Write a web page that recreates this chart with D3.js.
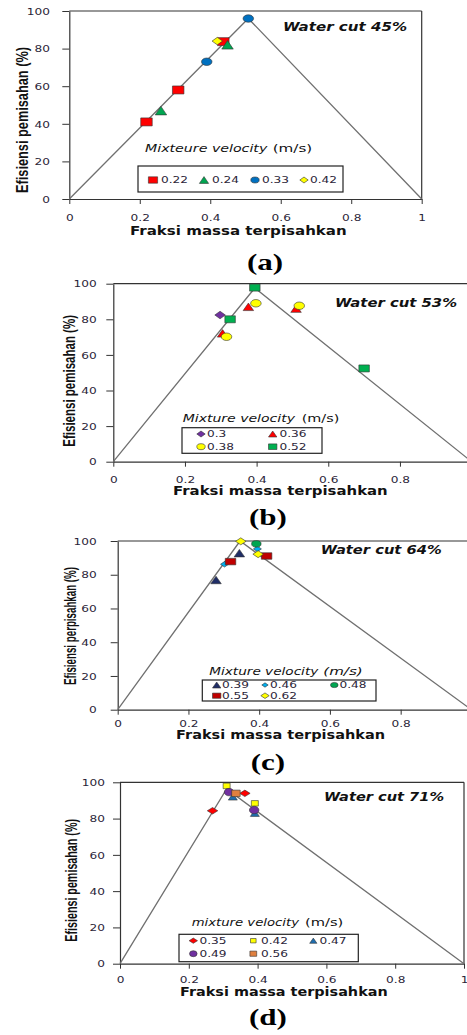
<!DOCTYPE html>
<html><head><meta charset="utf-8">
<script src="https://cdn.jsdelivr.net/npm/d3@7"></script>
<style>body{margin:0;background:#fff}svg{display:block}</style>
</head><body>
<svg id="c" width="467" height="1035"></svg>
<script>
// ---------------- DATA ----------------
const panelLabels = ["(a)", "(b)", "(c)", "(d)"];
const waterCuts = ["Water cut 45%", "Water cut 53%", "Water cut 64%", "Water cut 71%"];
const yTitles = ["Efisiensi pemisahan (%)", "Efisiensi pemisahan (%)", "Efisiensi perpisahkan (%)", "Efisiensi pemisahan (%)"];
const xTitle = "Fraksi massa terpisahkan";
const legendTitles = ["Mixteure velocity", "Mixture velocity", "Mixture velocity", "mixture velocity"];
const legendUnit = "(m/s)";
const yTicks = [0, 20, 40, 60, 80, 100];
const xTicksFull = [0, 0.2, 0.4, 0.6, 0.8, 1];
const xTicksCut = [0, 0.2, 0.4, 0.6, 0.8];

// triangle guide line: (0,0) -> peak -> (1,0)
const peakX = [0.508, 0.395, 0.346, 0.31];
const peakY = [96, 97.6, 100, 96.3];

// (a) Water cut 45%
const aVelocity = ["0.22", "0.24", "0.33", "0.42"];
const aX = [[0.219, 0.309, 0.437], [0.26, 0.449], [0.39, 0.508], [0.42]];
const aY = [[41, 58, 83.7], [47, 82], [73, 96], [84]];

// (b) Water cut 53%
const bVelocity = ["0.3", "0.36", "0.38", "0.52"];
const bX = [[0.298], [0.305, 0.377, 0.51], [0.316, 0.398, 0.519], [0.326, 0.395, 0.70]];
const bY = [[82.4], [72.1, 87, 86], [70.2, 89, 87.6], [80, 97.8, 52.4]];

// (c) Water cut 64%
const cVelocity = ["0.39", "0.46", "0.48", "0.55", "0.62"];
const cX = [[0.278, 0.344], [0.302, 0.395], [0.392], [0.319, 0.421], [0.348, 0.397]];
const cY = [[76.9, 92.8], [86.2, 95.3], [98.3], [87.8, 91.1], [99.8, 92.2]];

// (d) Water cut 71%
const dVelocity = ["0.35", "0.42", "0.47", "0.49", "0.56"];
const dX = [[0.269, 0.363], [0.31, 0.392], [0.328, 0.392], [0.317, 0.39], [0.337]];
const dY = [[84.3, 93.9], [98, 88.4], [92, 83], [94.6, 84.7], [93.9]];

// ---------------- STYLES / LAYOUT ----------------
const series = [
  {vel: aVelocity, xs: aX, ys: aY, sty: [
    {shape: "square", fill: "#ff0000", w: 11.5, h: 8},
    {shape: "triangle", fill: "#00a651", w: 11.5, h: 8.5},
    {shape: "circle", fill: "#0070c0", w: 10.5, h: 7.5},
    {shape: "diamond", fill: "#ffff00", w: 10.5, h: 7.5}]},
  {vel: bVelocity, xs: bX, ys: bY, sty: [
    {shape: "diamond", fill: "#7030a0", w: 10.5, h: 7.5},
    {shape: "triangle", fill: "#ff0000", w: 10.5, h: 7.5},
    {shape: "circle", fill: "#ffff00", w: 10.5, h: 7.5},
    {shape: "square", fill: "#00b050", w: 10.5, h: 7}]},
  {vel: cVelocity, xs: cX, ys: cY, sty: [
    {shape: "triangle", fill: "#1f2d66", w: 10.5, h: 7.5},
    {shape: "diamond", fill: "#00b0f0", w: 8, h: 5.5},
    {shape: "circle", fill: "#00a651", w: 9.5, h: 6.5},
    {shape: "square", fill: "#c00000", w: 10.5, h: 6.5},
    {shape: "diamond", fill: "#ffff00", w: 10.5, h: 7}]},
  {vel: dVelocity, xs: dX, ys: dY, sty: [
    {shape: "diamond", fill: "#ff0000", w: 10.5, h: 6.5},
    {shape: "square", fill: "#ffff00", w: 7, h: 5.5},
    {shape: "triangle", fill: "#1f6fb0", w: 9, h: 6.5},
    {shape: "circle", fill: "#7030a0", w: 9.5, h: 7.5},
    {shape: "square", fill: "#e0803f", w: 8.5, h: 6.5}]}
];

const layout = [
  {x0: 69.3, x1: 421.7, yT: 11, yB: 199, xt: xTicksFull, yLabEnd: 50, xLabBase: 221,
   xTit: [130, 346.7, 235], yTit: [28, 193, 146], wc: [283, 407, 31],
   lg: {title: [145, 267.3], unit: [272.7, 312.3], base: 152, unitItalic: false,
        box: [138, 166, 343, 192], cols: [[153, 161], [204, 212], [255, 262], [304, 310]], rows: [180], perRow: 4},
   label: [265, 270]},
  {x0: 113.3, x1: 471.6, yT: 283.7, yB: 461.7, xt: xTicksCut, yLabEnd: 96.7, xLabBase: 483,
   xTit: [173, 387.7, 495], yTit: [75, 446.7, 131.7], wc: [335, 457, 306.5],
   lg: {title: [182.7, 295], unit: [301.7, 339.3], base: 422, unitItalic: false,
        box: [182, 427.7, 322, 453.3], cols: [[201, 207], [272.7, 279.5]], rows: [434, 446.7], perRow: 2},
   label: [268, 525]},
  {x0: 117.7, x1: 471.4, yT: 541, yB: 709.7, xt: xTicksCut, yLabEnd: 96.7, xLabBase: 727,
   xTit: [176, 385, 738.5], yTit: [76, 685, 118], wc: [320.7, 441.7, 554],
   lg: {title: [209.3, 318.3], unit: [323.3, 362.7], base: 674.5, unitItalic: true,
        box: [202.3, 680, 376, 701], cols: [[216.7, 222], [265, 270], [334.3, 339.5]], rows: [685, 695.7], perRow: 3},
   label: [268, 770]},
  {x0: 120, x1: 464, yT: 782.3, yB: 963.7, xt: xTicksFull, yLabEnd: 105, xLabBase: 982.5,
   xTit: [180, 387.7, 996], yTit: [77, 941.7, 122.7], wc: [324, 444, 800.5],
   lg: {title: [191.7, 299], unit: [305, 343.3], base: 926, unitItalic: false,
        box: [179, 934.3, 358.3, 961.7], cols: [[193.3, 199.5], [253.3, 261], [313.3, 319.5]], rows: [940.7, 953.7], perRow: 3},
   label: [268, 1025]}
];

const SX = 1.35; // horizontal stretch of the original figure

function markerPath(shape, w, h) {
  switch (shape) {
    case "square": return `M${-w/2},${-h/2}h${w}v${h}h${-w}Z`;
    case "circle": return `M${-w/2},0a${w/2},${h/2} 0 1,0 ${w},0a${w/2},${h/2} 0 1,0 ${-w},0Z`;
    case "triangle": return `M0,${-h/2}L${w/2},${h/2}L${-w/2},${h/2}Z`;
    case "diamond": return `M0,${-h/2}L${w/2},0L0,${h/2}L${-w/2},0Z`;
  }
}

const svg = d3.select("#c");
const numFont = "'DejaVu Sans', Verdana, sans-serif";

layout.forEach((L, p) => {
  const S = series[p];
  const g = svg.append("g");
  const x = d3.scaleLinear().domain([0, 1]).range([L.x0, L.x1]);
  const y = d3.scaleLinear().domain([0, 100]).range([L.yB, L.yT]);

  // frame top + right
  g.append("line").attr("x1", L.x0).attr("x2", L.x1).attr("y1", L.yT).attr("y2", L.yT)
    .attr("stroke", "#333").attr("stroke-width", 1.2);
  g.append("line").attr("x1", L.x1).attr("x2", L.x1).attr("y1", L.yT).attr("y2", L.yB)
    .attr("stroke", "#333").attr("stroke-width", 1.2);

  // axes
  const ya = g.append("g").attr("transform", `translate(${L.x0},0)`)
    .call(d3.axisLeft(y).tickValues(yTicks).tickSize(7).tickSizeOuter(0).tickFormat(d => String(d)));
  const xa = g.append("g").attr("transform", `translate(0,${L.yB})`)
    .call(d3.axisBottom(x).tickValues(L.xt).tickSize(5).tickSizeOuter(0).tickFormat(d => String(d)));
  [ya, xa].forEach(a => {
    a.select(".domain").attr("stroke", "#333").attr("stroke-width", 1.2);
    a.selectAll(".tick line").attr("stroke", "#333").attr("stroke-width", 1);
  });
  ya.selectAll(".tick text").attr("x", 0).attr("dy", "0.36em")
    .attr("transform", `translate(${L.yLabEnd - L.x0},0) scale(${SX},1)`)
    .attr("text-anchor", "end").attr("font-family", numFont).attr("font-size", 9).attr("fill", "#2a2438");
  xa.selectAll(".tick text").attr("y", 0).attr("dy", 0)
    .attr("transform", `translate(0,${L.xLabBase - L.yB}) scale(${SX},1)`)
    .attr("text-anchor", "middle").attr("font-family", numFont).attr("font-size", 9).attr("fill", "#2a2438");

  // guide line
  const lx = [0, peakX[p], 1], ly = [0, peakY[p], 0];
  g.append("path").datum(d3.range(3))
    .attr("d", d3.line().x(i => x(lx[i])).y(i => y(ly[i])))
    .attr("fill", "none").attr("stroke", "#707070").attr("stroke-width", 1.3);

  // markers
  S.vel.forEach((v, s) => {
    const st = S.sty[s];
    g.append("g").selectAll("path").data(d3.range(S.xs[s].length)).join("path")
      .attr("d", markerPath(st.shape, st.w, st.h))
      .attr("transform", i => `translate(${x(S.xs[s][i])},${y(S.ys[s][i])})`)
      .attr("fill", st.fill).attr("stroke", "#333").attr("stroke-width", 0.6);
  });

  // x title
  g.append("text").attr("x", L.xTit[0]).attr("y", L.xTit[2]).text(xTitle)
    .attr("font-family", numFont).attr("font-weight", "bold").attr("font-size", 11.5)
    .attr("textLength", L.xTit[1] - L.xTit[0]).attr("lengthAdjust", "spacingAndGlyphs").attr("fill", "#111");
  // y title
  g.append("text").attr("transform", `translate(${L.yTit[0]},${L.yTit[1]}) rotate(-90) scale(1,${SX})`)
    .text(yTitles[p]).attr("font-family", "'Liberation Sans', Arial, sans-serif").attr("font-weight", "bold")
    .attr("font-size", 12.5).attr("textLength", L.yTit[2]).attr("lengthAdjust", "spacingAndGlyphs").attr("fill", "#111");
  // water cut
  g.append("text").attr("x", L.wc[0]).attr("y", L.wc[2]).text(waterCuts[p])
    .attr("font-family", numFont).attr("font-weight", "bold").attr("font-style", "italic").attr("font-size", 12)
    .attr("textLength", L.wc[1] - L.wc[0]).attr("lengthAdjust", "spacingAndGlyphs").attr("fill", "#111");

  // legend title
  const lg = L.lg;
  g.append("text").attr("x", lg.title[0]).attr("y", lg.base).text(legendTitles[p])
    .attr("font-family", numFont).attr("font-style", "italic").attr("font-size", 10.5)
    .attr("textLength", lg.title[1] - lg.title[0]).attr("lengthAdjust", "spacingAndGlyphs").attr("fill", "#111");
  g.append("text").attr("x", lg.unit[0]).attr("y", lg.base).text(legendUnit)
    .attr("font-family", numFont).attr("font-style", lg.unitItalic ? "italic" : "normal").attr("font-size", 10.5)
    .attr("textLength", lg.unit[1] - lg.unit[0]).attr("lengthAdjust", "spacingAndGlyphs").attr("fill", "#111");
  // legend box
  g.append("rect").attr("x", lg.box[0]).attr("y", lg.box[1])
    .attr("width", lg.box[2] - lg.box[0]).attr("height", lg.box[3] - lg.box[1])
    .attr("fill", "#fff").attr("stroke", "#222").attr("stroke-width", 1.2);
  S.vel.forEach((v, s) => {
    const st = S.sty[s];
    const col = lg.cols[s % lg.perRow], ry = lg.rows[Math.floor(s / lg.perRow)];
    g.append("path").attr("d", markerPath(st.shape, st.w * 0.8, st.h * 0.8))
      .attr("transform", `translate(${col[0]},${ry})`)
      .attr("fill", st.fill).attr("stroke", "#333").attr("stroke-width", 0.6);
    g.append("text").attr("transform", `translate(${col[1]},${ry}) scale(${SX},1)`)
      .attr("dy", "0.36em").text(v).attr("font-family", numFont).attr("font-size", 9).attr("fill", "#2a2438");
  });

  // panel label
  g.append("text").attr("x", L.label[0]).attr("y", L.label[1]).attr("text-anchor", "middle")
    .attr("transform", `translate(${L.label[0] * (1 - SX)},0) scale(${SX},1)`)
    .text(panelLabels[p]).attr("font-family", "'Liberation Serif', 'Times New Roman', serif")
    .attr("font-weight", "bold").attr("font-size", 23).attr("fill", "#000");
});
</script>
</body></html>
